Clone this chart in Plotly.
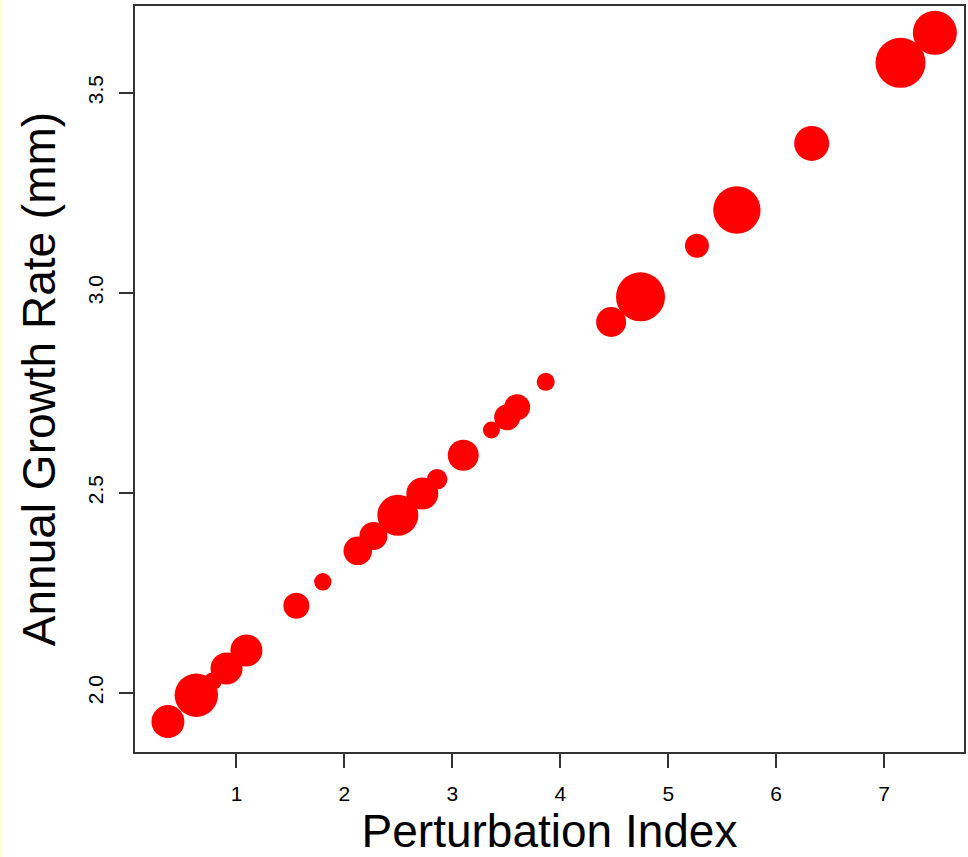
import plotly.graph_objects as go

# Data
perturbation_index = [0.365, 0.628, 0.781, 0.908, 1.092, 1.555, 1.800, 2.124, 2.269,
                      2.495, 2.722, 2.859, 3.101, 3.362, 3.508, 3.600, 3.865, 4.471,
                      4.743, 5.266, 5.636, 6.329, 7.152, 7.470]
growth_rate = [1.928, 1.994, 2.029, 2.061, 2.106, 2.2175, 2.2775, 2.355, 2.392,
               2.444, 2.498, 2.534, 2.594, 2.657, 2.689, 2.714, 2.7775, 2.927,
               2.990, 3.1175, 3.207, 3.3735, 3.575, 3.650]
point_size = [33, 43.4, 18, 32, 32, 26, 17.4, 28.6, 28, 41, 32, 20.6, 31, 17, 26, 26,
              18, 30, 49, 24, 47.4, 35, 50, 44]

x_ticks = [1, 2, 3, 4, 5, 6, 7]
y_ticks = [2.0, 2.5, 3.0, 3.5]
y_tick_labels = ["2.0", "2.5", "3.0", "3.5"]

FONT = "Liberation Sans, Arial, sans-serif"

fig = go.Figure()
fig.add_trace(go.Scatter(
    x=perturbation_index, y=growth_rate, mode="markers",
    marker=dict(size=point_size, color="#FF0000", line=dict(width=0), opacity=1),
    showlegend=False, hoverinfo="x+y",
))

axis_common = dict(
    showline=True, mirror=True, linecolor="#333333", linewidth=1.5,
    ticks="outside", ticklen=14, tickwidth=1.5, tickcolor="#333333",
    showgrid=False, zeroline=False,
    tickfont=dict(family=FONT, size=21, color="#000000"),
)

fig.update_xaxes(
    range=[0.06, 7.74], tickvals=x_ticks, ticktext=[str(v) for v in x_ticks],
    ticklabelstandoff=8,
    title=dict(text="Perturbation Index", font=dict(family=FONT, size=46, color="#000000"), standoff=12),
    **axis_common,
)
fig.update_yaxes(
    range=[1.852, 3.717], tickvals=y_ticks, ticktext=y_tick_labels, tickangle=-90,
    ticklabelstandoff=8,
    title=dict(text="Annual Growth Rate (mm)", font=dict(family=FONT, size=46, color="#000000"), standoff=14),
    **axis_common,
)

fig.update_layout(
    width=968, height=857,
    margin=dict(l=135, r=2, t=6, b=105, pad=0),
    paper_bgcolor="#FFFFFF", plot_bgcolor="#FFFFFF",
    font=dict(family=FONT, color="#000000"),
)

# thin pale-yellow strip on the left edge of the picture
fig.add_shape(type="rect", xref="paper", yref="paper",
              x0=-135 / 831, x1=-133 / 831, y0=-105 / 746, y1=(746 + 6) / 746,
              fillcolor="#FFFFC8", line=dict(width=0), layer="below")

fig.write_html("out.html",
               config={"displayModeBar": False},
               post_script="document.body.style.margin='0px';document.body.style.overflow='hidden';")
